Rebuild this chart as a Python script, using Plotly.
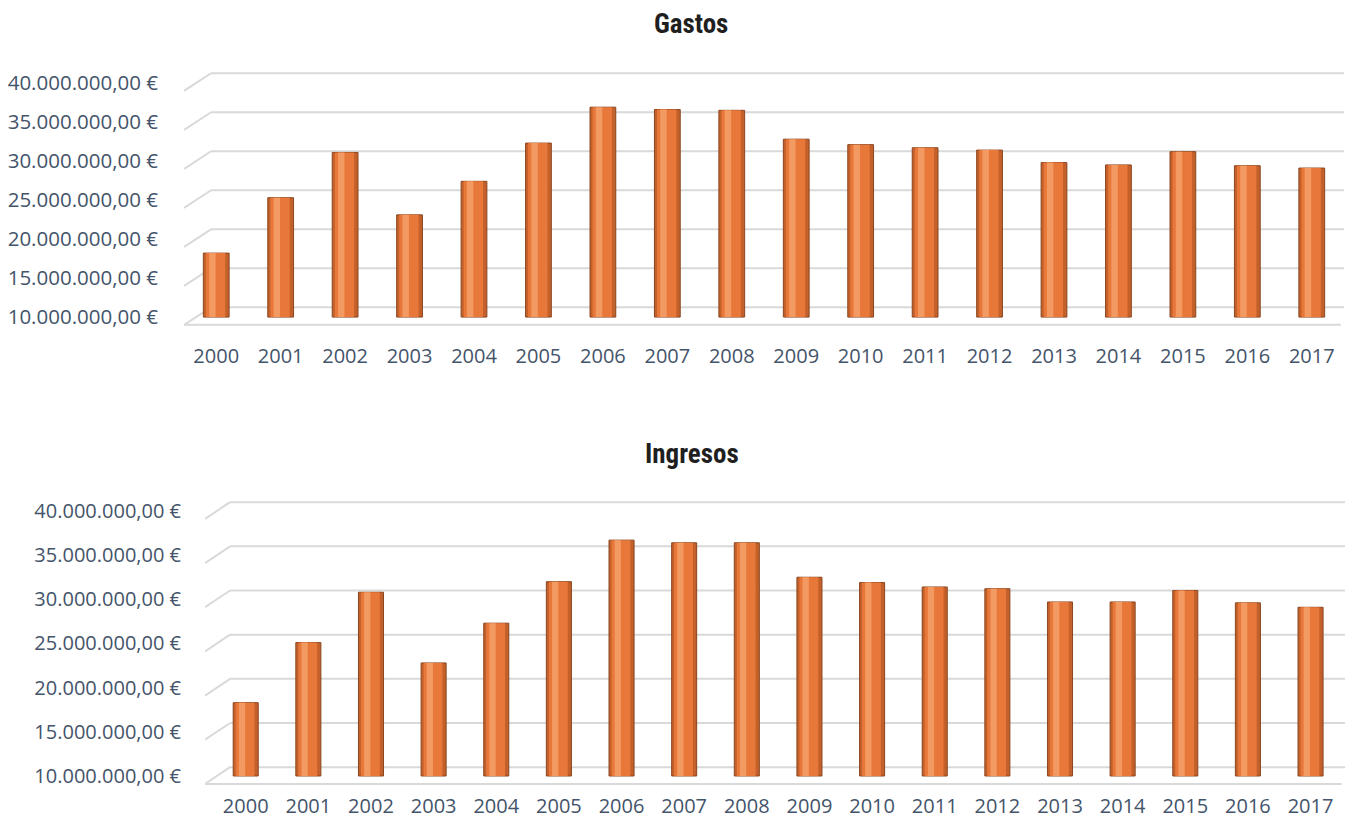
import plotly.graph_objects as go

years = [str(y) for y in range(2000, 2018)]
gastos = [18.2e6, 25.3e6, 31.1e6, 23.1e6, 27.4e6, 32.3e6, 36.9e6, 36.6e6, 36.5e6,
          32.8e6, 32.1e6, 31.7e6, 31.4e6, 29.8e6, 29.5e6, 31.2e6, 29.4e6, 29.1e6]
ingresos = [18.3e6, 25.1e6, 30.8e6, 22.8e6, 27.3e6, 32.0e6, 36.7e6, 36.4e6, 36.4e6,
            32.5e6, 31.9e6, 31.4e6, 31.2e6, 29.7e6, 29.7e6, 31.0e6, 29.6e6, 29.1e6]
tick_vals = [10e6, 15e6, 20e6, 25e6, 30e6, 35e6, 40e6]
titles = ["Gastos", "Ingresos"]


def fmt_eur(v):
    s = f"{v:,.2f}".replace(",", "X").replace(".", ",").replace("X", ".")
    return s + " €"


tick_text = [fmt_eur(v) for v in tick_vals]
BASE = tick_vals[0]

TEXT = "#44546A"
GRID = "#D9D9D9"
FONT = "Open Sans"
TITLE_FONT = "Liberation Sans Narrow, Roboto Condensed, Lato"

fig = go.Figure()

panels = [
    dict(data=gastos, xa="x", ya="y", xdom=[184 / 1353, 1344 / 1353],
         xrange=[-0.5, 17.5], ydom=[0.6024, 0.9141], yrange=[8.8e6, 41.6e6],
         front=1.0e6, back=1.25e6, dx=0.42, ystand=25, xstand=16, ysize=20.5,
         title_x=691 / 1353, title_y=1 - 24 / 821),
    dict(data=ingresos, xa="x2", ya="y2", xdom=[205 / 1353, 1345 / 1353],
         xrange=[-0.65, 17.55], ydom=[0.0419, 0.3916], yrange=[8.8e6, 41.3e6],
         front=0.9e6, back=1.0e6, dx=0.4, ystand=23, xstand=5, ysize=20,
         title_x=692 / 1353, title_y=1 - 454 / 821),
]

shapes = []
annotations = []
for i, p in enumerate(panels):
    vals = p["data"]
    # cylinder body (dark rim)
    fig.add_trace(go.Bar(x=years, y=[v - BASE for v in vals], base=BASE,
                         width=0.4, offset=-0.2,
                         marker=dict(color="#C4602A", line=dict(color="#8A4620", width=1)),
                         xaxis=p["xa"], yaxis=p["ya"], showlegend=False,
                         hovertext=[fmt_eur(v) for v in vals], hoverinfo="x+text"))
    # main face
    fig.add_trace(go.Bar(x=years, y=[v - BASE for v in vals], base=BASE,
                         width=0.3, offset=-0.16,
                         marker=dict(color="#E8783A", line=dict(width=0)),
                         xaxis=p["xa"], yaxis=p["ya"], showlegend=False, hoverinfo="skip"))
    # highlight
    fig.add_trace(go.Bar(x=years, y=[v - BASE for v in vals], base=BASE,
                         width=0.1, offset=-0.11,
                         marker=dict(color="#F39A62", line=dict(width=0)),
                         xaxis=p["xa"], yaxis=p["ya"], showlegend=False, hoverinfo="skip"))

    xmin, xmax = p["xrange"]
    for v in tick_vals:
        shapes.append(dict(type="line", xref=p["xa"], yref=p["ya"], layer="below",
                           x0=xmin, y0=v - p["front"], x1=xmin + p["dx"], y1=v + p["back"],
                           line=dict(color=GRID, width=2)))
        shapes.append(dict(type="line", xref=p["xa"], yref=p["ya"], layer="below",
                           x0=xmin + p["dx"], y0=v + p["back"], x1=xmax, y1=v + p["back"],
                           line=dict(color=GRID, width=2)))
    shapes.append(dict(type="line", xref=p["xa"], yref=p["ya"], layer="below",
                       x0=xmin, y0=BASE - p["front"], x1=xmax - 0.05, y1=BASE - p["front"],
                       line=dict(color=GRID, width=2)))

    annotations.append(dict(text="<b>" + titles[i] + "</b>", xref="paper", yref="paper",
                            x=p["title_x"], y=p["title_y"],
                            xanchor="center", yanchor="middle", showarrow=False,
                            font=dict(family=TITLE_FONT, size=27, color="#1F1F1F")))

    sfx = "" if i == 0 else "2"
    fig.layout["xaxis" + sfx] = dict(domain=p["xdom"], range=p["xrange"], anchor=p["ya"],
                                     type="category", showgrid=False, zeroline=False,
                                     showline=False, ticks="", ticklabelstandoff=p["xstand"],
                                     tickfont=dict(family=FONT, size=20, color=TEXT),
                                     fixedrange=True)
    fig.layout["yaxis" + sfx] = dict(domain=p["ydom"], range=p["yrange"], anchor=p["xa"],
                                     tickvals=tick_vals, ticktext=tick_text,
                                     showgrid=False, zeroline=False, showline=False,
                                     ticks="", ticklabelstandoff=p["ystand"],
                                     tickfont=dict(family=FONT, size=p["ysize"], color=TEXT),
                                     fixedrange=True)

fig.update_layout(width=1353, height=821,
                  margin=dict(l=0, r=0, t=0, b=0, autoexpand=False),
                  paper_bgcolor="white", plot_bgcolor="white", barmode="overlay",
                  shapes=shapes, annotations=annotations, showlegend=False)

fig.write_html("out.html", config={"displayModeBar": False},
               post_script="document.body.style.margin='0';"
                           "document.body.style.padding='0';"
                           "document.body.style.overflow='hidden';")
